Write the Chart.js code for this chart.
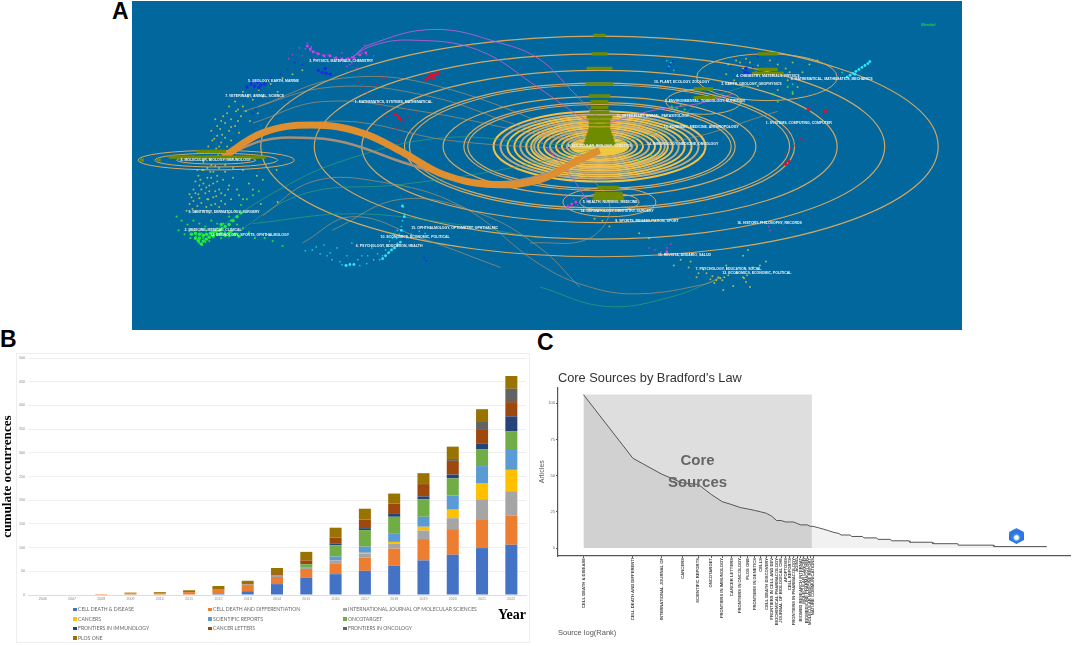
<!DOCTYPE html>
<html>
<head>
<meta charset="utf-8">
<script src="https://cdn.jsdelivr.net/npm/chart.js@4"></script>
<style>
  html, body { margin: 0; padding: 0; background: #fff; }
  body { position: relative; width: 1072px; height: 646px; overflow: hidden; font-family: "Liberation Sans", sans-serif; }
  canvas { position: absolute; }
  .letter { position: absolute; font-weight: bold; font-size: 23px; color: #000; line-height: 23px; }
  #panelA { position: absolute; left: 132px; top: 1px; width: 830px; height: 329px; background: #02679c; }
  #panelB { position: absolute; left: 16px; top: 353px; width: 514px; height: 290px; border: 1px solid #eeeeee; box-sizing: border-box; }
  #legendB { position: absolute; left: 73px; top: 605px; display: grid; grid-template-columns: 135px 135px 190px; grid-auto-rows: 9.5px; font-family: Lato, sans-serif; font-size: 5.1px; color: #666; line-height: 8px; }
  #legendB i { display: inline-block; width: 3.5px; height: 3.5px; margin-right: 1.5px; }
  #hex { position: absolute; left: 1009px; top: 528px; width: 15px; height: 16px; clip-path: polygon(50% 0, 100% 25%, 100% 75%, 50% 100%, 0 75%, 0 25%);
         background: radial-gradient(circle at 50% 60%, #fff 0 14%, #2f7fe8 30%, #2f6fe0 60%, #7fd0ff 100%); }
</style>
</head>
<body>
<div class="letter" style="left:112px;top:0px">A</div>
<div class="letter" style="left:0px;top:328px">B</div>
<div class="letter" style="left:537px;top:331px">C</div>

<div id="panelA"></div>
<canvas id="mapChart" width="830" height="329" style="left:132px;top:1px"></canvas>

<div id="panelB"></div>
<canvas id="stackChart" width="535" height="296" style="left:0;top:350px"></canvas>
<div id="legendB"></div>

<canvas id="bradfordChart" width="534" height="281" style="left:538px;top:365px"></canvas>
<div id="hex"></div>

<script>
// ---------- panel B data ----------
const years = ['2006','2007','2008','2009','2010','2011','2012','2013','2014','2015','2016','2017','2018','2019','2020','2021','2022'];
const journals = ['CELL DEATH & DISEASE','CELL DEATH AND DIFFERENTIATION','INTERNATIONAL JOURNAL OF MOLECULAR SCIENCES','CANCERS','SCIENTIFIC REPORTS','ONCOTARGET','FRONTIERS IN IMMUNOLOGY','CANCER LETTERS','FRONTIERS IN ONCOLOGY','PLOS ONE'];
const cellDeathDisease = [0,0,0,0,0,0,2,8,23,36,44,51,62,73,85,99,106];
const cellDeathDiff    = [0,0,2,3,3,6,9,13,15,19,23,28,36,45,54,61,62];
const ijms             = [0,0,0,0,0,0,0,1,3,4,6,8,10,18,23,42,51];
const cancers          = [0,0,0,0,0,0,0,0,0,0,0,2,4,8,18,33,45];
const sciReports       = [0,0,0,0,0,0,0,0,0,0,8,13,17,21,30,37,44];
const oncotarget       = [0,0,0,0,0,0,0,0,0,6,24,35,36,37,36,35,37];
const frontImmunology  = [0,0,0,0,0,0,0,0,0,0,3,4,6,6,8,13,32];
const cancerLetters    = [0,0,0,0,1,0,1,1,3,8,13,18,21,26,29,30,30];
const frontOncology    = [0,0,0,0,0,0,0,0,0,0,1,1,1,2,4,15,28];
const plosOne          = [0,0,0,2,2,4,7,7,13,18,20,22,21,21,26,27,27];
const stackTicks = [0,50,100,150,200,250,300,350,400,450,500];

// ---------- panel C data ----------
const sourceNames = ['CELL DEATH & DISEASE','CELL DEATH AND DIFFERENTI','INTERNATIONAL JOURNAL OF','CANCERS','SCIENTIFIC REPORTS','ONCOTARGET','FRONTIERS IN IMMUNOLOGY','CANCER LETTERS','FRONTIERS IN ONCOLOGY','PLOS ONE','FRONTIERS IN GENETICS','CELLS','CELL DEATH DISCOVERY','FRONTIERS IN CELL AND DEV','BIOCHEMICAL PHARMACOLOGY','JOURNAL OF BIOLOGICAL CHE','APOPTOSIS','CELL REPORTS','FRONTIERS IN PHARMACOLOGY','AGING','BIOMED RESEARCH INTERNAT','MOLECULAR CANCER','BIOMEDICINE PHARMACOTHER','MOLECULAR MEDICINE REPORT','NATURE COMMUNICATIONS'];
const sourceRanks = [1,2,3,4,5,6,7,8,9,10,11,12,13,14,15,16,17,18,19,20,21,22,23,24,25];
const lineRanks = [1,2,3,4,5,6,7,8,9,10,11,12,13,14,15,16,17,18,19,20,21,22,23,24,25,27,29,31,33,36,37,42,43,50,51,61,62,74,75,96,97,133,134,190,191,314,315,662];
const lineArticles = [106,62,51,45,44,37,32,30,28,27,26,25,24,22,19,19,18,18,18,17,16,16,16,15,15,14,13,12,11,10,9,9,8,8,7,7,6,6,5,5,4,4,3,3,2,2,1,1];
const coreEdge = [1, 24.6];
const coreTop = 106;
const articleTicks = [0,25,50,75,100];

// ---------- panel A data ----------
const ringRx = [342,288,240,197,192,158,137,133,107,100,93,86,80,74,69,66,62,56,50,44,38,33];
const ringRy = [113,95,78,65,63,51,45,43,36,33,31,29,27,25,23,22,21,19,17,15,13,11];
const sideRingX  = [213,213,213,769,705,610,610];
const sideRingY  = [160,160,160,75,100,203,203];
const sideRingRx = [79,62,40,71,38,47,30];
const sideRingRy = [10,7,4,24,13,15,9];

const oliveY    = [32,51,66,82,94,100,106,111,116,120,124,128,131,134,137,140,143, 157,151,160,160, 51,67,71,87,96, 188,194,197,200];
const oliveX    = [600,600,600,600,600,600,600,600,600,600,600,600,600,600,600,600,600, 214,208,138,155, 770,770,770,705,706, 609,609,609,609];
const oliveHalf = [6,8,13,14,11,9,9,10,13,11,11,11,12,13,14,15,16, 49,15,2,2, 10,10,16,10,11, 11,14,15,16];

const mainBand = [[220,157],[260,132],[310,124],[360,132],[403,153],[443,175],[493,185],[540,180],[573,163],[600,150]];
const grayBand = [[220,157],[260,140],[300,137],[343,142],[410,165],[477,182],[540,176],[600,150]];
const magentaCurves = [
  [[350,55],[367,42],[433,26],[500,40],[540,57],[573,90],[600,118]],
  [[345,58],[370,43],[410,37],[477,47],[540,87],[580,115],[600,125]],
  [[600,125],[650,110],[700,102],[735,92]],
  [[540,140],[570,175],[590,205]]
];
const greenCurves = [
  [[210,233],[277,190],[343,160],[443,137],[540,143],[600,146]],
  [[225,240],[300,195],[400,185],[500,170],[600,148]],
  [[540,290],[607,310],[673,300],[723,280]],
  [[600,146],[660,130],[705,100],[760,80]],
  [[250,225],[350,215],[450,225],[540,240]]
];
const brownCurves = [
  [[260,217],[310,182],[377,182],[460,207],[540,267],[590,290],[640,297],[707,287],[722,280]],
  [[250,122],[320,100],[420,110],[520,130],[600,146]],
  [[240,110],[330,85],[430,95],[520,125],[600,146]],
  [[255,105],[340,76],[440,85],[600,146]],
  [[250,135],[340,120],[450,140],[600,150]],
  [[600,146],[680,140],[780,110]],
  [[330,232],[400,200],[480,215],[540,250],[580,290]],
  [[300,245],[350,218],[420,240],[500,270]],
  [[570,160],[610,205],[590,240],[530,245]]
];

const yellowDots = [[250,98],[245,95],[240,105],[233,110],[228,118],[238,115],[222,122],[232,125],[217,128],[226,130],[214,135],[222,137],[209,140],[218,142],[205,146],[213,148],[228,140],[236,132],[247,120],[255,112],[203,152],[198,158],[208,165],[200,170],[210,172],[195,176],[204,178],[214,176],[192,182],[200,184],[210,184],[220,180],[190,190],[198,190],[206,192],[216,190],[226,186],[188,198],[196,199],[204,200],[213,197],[222,196],[234,190],[186,205],[194,207],[203,208],[212,205],[222,205],[240,200],[250,190],[260,180],[274,170],[258,205],[275,203],[183,212],[192,213],[206,214],[226,214],[199,170],[206,158],[216,168],[222,172],[195,195],[212,192],[208,178],[230,178],[240,170],[200,162],[214,125],[224,112],[232,100],[240,90],[256,88],[268,82],[280,76],[290,72],[300,68],[275,90],[260,95],[208,130],[212,118],[205,200],[218,202],[190,202],[228,200],
  [220,115],[226,105],[235,120],[243,110],[219,134],[211,138],[216,146],[224,146],[204,168],[212,166],[197,180],[206,186],[214,182],[192,194],[202,194],[210,198],[218,194],[225,190],[198,204],[208,206],[216,208],[189,210],[200,212],[236,196],[246,184],[254,176],[215,155],[205,158],[222,165],[230,168],[203,188],[196,186],[186,195],[207,172],[194,170],[235,108],[228,126],[218,120],
  [730,62],[738,58],[745,66],[752,60],[760,63],[772,58],[780,62],[788,66],[795,60],[728,72],[736,78],[790,78],[800,85],[805,70],[812,62],[795,92],[780,88],[760,84],[820,58],[742,60],[748,56],[785,72],[792,70],[758,70],
  [675,268],[682,262],[690,270],[698,280],[705,272],[712,282],[716,286],[720,280],[724,283],[730,278],[738,276],[745,280],[748,285],[755,270],[762,268],[768,264],[752,290],[725,293],[735,289],[700,276],[745,258],[750,252],[595,220],[603,222],[610,228],[640,235],[650,240],[718,283],[722,281],[714,279],[726,280],[746,281],[749,278],[708,276],[692,264],[728,268]];
const greenDots = [[173,218],[178,222],[184,226],[190,222],[196,225],[202,228],[208,222],[214,225],[222,228],[228,222],[234,226],[240,230],[246,234],[252,240],[175,232],[181,236],[187,240],[193,238],[198,235],[200,240],[204,236],[206,243],[210,238],[212,232],[216,236],[218,240],[222,234],[226,238],[230,236],[196,245],[199,247],[194,242],[202,244],[208,234],[214,230],[220,225],[226,218],[232,212],[238,206],[244,200],[250,196],[256,192],[262,240],[270,243],[280,248],[196,232],[203,232],[190,232],[186,233],[205,238],[199,238],[211,236],
  [673,105],[678,107],[682,104],[686,108],[640,160],[652,155],[790,85],[795,90],[780,100],[775,92]];
const greenCore = [[192,240],[195,243],[198,246],[196,240],[200,243],[203,241],[206,239],[200,237],[203,236],[207,235],[210,234],[213,233],[216,232],[219,230],[222,228],[226,226],[230,222],[234,218],[238,214],[210,238],[214,236],[218,235],[222,237],[226,235],[188,236],[192,235],[196,236],[228,233],[232,236],[236,238],[218,226]];
const cyanDots = [[303,253],[310,252],[318,256],[325,258],[330,262],[338,264],[345,268],[352,266],[358,268],[365,266],[372,262],[378,262],[384,258],[388,254],[392,250],[396,245],[384,252],[381,258],[386,248],[391,240],[396,232],[400,228],[401,222],[402,208],[403,215],[405,240],[410,236],[418,233],[424,235],[345,258],[360,258],[370,250],[335,250],[350,245],[322,247],[395,240],[388,243],
  [340,267],[348,266],[356,262],[366,258],[376,256],[392,236],[398,236],[328,255],[314,249],
  [845,70],[790,72],[795,82],[672,60],[670,64],[668,58],[675,68]];
const cyanCore = [[381,261],[384,258],[387,255],[390,252],[393,250],[396,247],[399,244],[344,268],[348,267],[352,267],[853,73],[856,71],[859,69],[862,67],[865,65],[868,63],[871,61],[873,59],[858,72],[850,75],[401,207],[403,218],[400,232]];
const redDots = [[357,80],[362,85],[358,88],[365,90],[370,85],[375,82],[380,76],[378,72],[385,76],[380,105],[385,108],[392,113],[397,118],[398,125],[403,120],[408,115],[395,128],[390,122],[385,115],[410,130],[400,135],[397,140],[415,112],[405,108],[375,100],[370,95],[388,130],[402,128],
  [797,145],[803,138],[790,130],[795,122],[800,128],[806,118],[812,110],[820,112],[828,110],[818,103],[790,165],[787,155],[800,155],[793,148],[806,140]];
const redCore = [[425,77],[428,75],[431,74],[434,72],[437,71],[430,72],[433,76],[394,113],[397,116],[399,118],[788,164],[791,161],[811,108],[828,110]];
const purpleDots = [[297,45],[303,46],[308,48],[305,40],[309,44],[314,50],[320,52],[326,52],[332,55],[338,58],[344,56],[350,54],[356,52],[360,50],[365,52],[372,53],[350,60],[345,64],[355,66],[290,52],[286,56],[300,53],[312,56],[363,42],[358,48],[340,50],[348,62],
  [560,190],[566,195],[574,200],[578,206],[582,198],[568,206],[576,208],[650,250],[656,252],[662,254],[668,250],[672,246],[678,256],[771,228],[772,232]];
const purpleCore = [[305,43],[308,46],[311,49],[316,51],[322,53],[328,53],[334,55],[340,56],[346,56],[352,55],[358,52],[364,50],[568,208],[572,205],[576,203],[668,254]];
const blueDots = [[300,62],[292,60],[285,67],[278,72],[268,76],[253,108],[250,112],[745,68],[750,70],[742,72],[755,65],[760,54],[671,62],[669,66],[674,59],[423,260],[425,263],[404,240]];
const blueCore = [[248,82],[252,84],[255,80],[258,83],[262,82],[250,78],[256,86],[244,85],[320,70],[324,71],[328,72],[316,68],[323,66],[747,70],[751,72],[748,66]];

const labelNames = ['3. PHYSICS, MATERIALS, CHEMISTRY','5. GEOLOGY, EARTH, MARINE','7. VETERINARY, ANIMAL, SCIENCE','1. MATHEMATICS, SYSTEMS, MATHEMATICAL','4. MOLECULAR, BIOLOGY, IMMUNOLOGY','9. DENTISTRY, DERMATOLOGY, SURGERY','2. MEDICINE, MEDICAL, CLINICAL','12. NEUROLOGY, SPORTS, OPHTHALMOLOGY','6. PSYCHOLOGY, EDUCATION, HEALTH','10. ECONOMICS, ECONOMIC, POLITICAL','15. OPHTHALMOLOGY, OPTOMETRY, OPHTHALMIC','4. CHEMISTRY, MATERIALS, PHYSICS','8. MATHEMATICAL, MATHEMATICS, MECHANICS','3. EARTH, GEOLOGY, GEOPHYSICS','10. PLANT, ECOLOGY, ZOOLOGY','2. ENVIRONMENTAL, TOXICOLOGY, NUTRITION','1. SYSTEMS, COMPUTING, COMPUTER','11. VETERINARY, ANIMAL, PARASITOLOGY','13. FORENSIC, MEDICINE, ANTHROPOLOGY','8. MOLECULAR, BIOLOGY, GENETICS','14. IMMUNOLOGY, MEDICINE, ONCOLOGY','5. HEALTH, NURSING, MEDICINE','14. DERMATOLOGY, DENTISTRY, SURGERY','9. SPORTS, REHABILITATION, SPORT','16. HISTORY, PHILOSOPHY, RECORDS','15. REVISTA, ANUARIO, SALUD','7. PSYCHOLOGY, EDUCATION, SOCIAL','12. ECONOMICS, ECONOMIC, POLITICAL'];
const labelX = [307,245,222,353,177,185,181,207,354,379,410,738,793,723,655,666,768,617,665,568,648,583,581,616,739,659,697,724];
const labelY = [58,79,94,100,160,213,232,237,248,239,230,74,77,82,80,99,122,115,126,146,143,203,212,222,224,257,272,276];

const toXY = pts => pts.map(p => ({x: p[0], y: p[1]}));

function dotSet(pts, color, r) {
    return {data: toXY(pts), backgroundColor: color, borderWidth: 0, pointRadius: r || 0.85, showLine: false};
}
function curve(pts, color, w) {
    return {data: toXY(pts), borderColor: color, borderWidth: w, pointRadius: 0, showLine: true, tension: 0.4, fill: false};
}

// rings are drawn under the datasets, through the chart's own scales
const ringPlugin = {
    id: 'rings',
    beforeDatasetsDraw(chart) {
        const {ctx, scales: {x, y}} = chart;
        const sx = x.getPixelForValue(1) - x.getPixelForValue(0);
        const sy = y.getPixelForValue(1) - y.getPixelForValue(0);
        const cx = x.getPixelForValue(600), cy = y.getPixelForValue(146);
        ctx.save();
        ctx.beginPath();
        ctx.ellipse(cx, cy, 30 * sx, 10 * sy, 0, 0, Math.PI * 2);
        ctx.fillStyle = '#f0c840';
        ctx.fill();
        ringRx.forEach((rx, i) => {
            ctx.beginPath();
            ctx.ellipse(cx, cy, rx * sx, ringRy[i] * sy, 0, 0, Math.PI * 2);
            ctx.strokeStyle = rx > 110 ? '#d5a862' : (i % 3 === 0 ? '#bcaa80' : '#f0c04a');
            ctx.lineWidth = rx > 110 ? 1.2 : 2;
            ctx.stroke();
        });
        sideRingX.forEach((sxv, i) => {
            ctx.beginPath();
            ctx.ellipse(x.getPixelForValue(sxv), y.getPixelForValue(sideRingY[i]), sideRingRx[i] * sx, sideRingRy[i] * sy, 0, 0, Math.PI * 2);
            ctx.strokeStyle = '#d5a862';
            ctx.lineWidth = 1;
            ctx.stroke();
        });
        ctx.restore();
    },
    afterDatasetsDraw(chart) {
        const {ctx, scales: {x, y}} = chart;
        ctx.save();
        ctx.font = 'bold 3.5px "Liberation Sans"';
        ctx.fillStyle = '#e9f6fb';
        ctx.textBaseline = 'middle';
        labelNames.forEach((t, i) => ctx.fillText(t, x.getPixelForValue(labelX[i]), y.getPixelForValue(labelY[i])));
        ctx.font = 'bold 3.6px "Liberation Sans"';
        ctx.fillStyle = '#22d050';
        ctx.fillText('Blended', x.getPixelForValue(925), y.getPixelForValue(22));
        ctx.restore();
    }
};

const oliveData = [];
oliveY.forEach((yy, i) => {
    oliveData.push({x: oliveX[i] - oliveHalf[i], y: yy}, {x: oliveX[i] + oliveHalf[i], y: yy}, {x: NaN, y: NaN});
});

new Chart(document.getElementById('mapChart'), {
    type: 'scatter',
    plugins: [ringPlugin],
    data: {
        datasets: [
            {data: oliveData, borderColor: '#6f8c00', borderWidth: 3.2, pointRadius: 0, showLine: true, spanGaps: false},
            curve(mainBand, '#e08f30', 7),
            curve(grayBand, '#a58f78', 2.5),
            dotSet(redCore, '#e0102c', 1.8),
            dotSet(redDots, 'rgba(214,30,60,0.8)'),
            dotSet(purpleCore, '#d040e8', 1.5),
            dotSet(purpleDots, 'rgba(205,60,225,0.85)'),
            dotSet(blueCore, '#1a28f0', 1.7),
            dotSet(blueDots, 'rgba(25,45,235,0.85)', 1),
            dotSet(cyanCore, '#30e8f5', 1.4),
            dotSet(cyanDots, 'rgba(40,225,240,0.8)'),
            dotSet(greenCore, '#20f030', 1.7),
            dotSet(greenDots, 'rgba(40,235,50,0.85)', 1.1),
            dotSet(yellowDots, 'rgba(205,205,70,0.8)', 1),
        ]
        .concat(magentaCurves.map(c => curve(c, 'rgba(200,90,215,0.85)', 1)))
        .concat(brownCurves.map(c => curve(c, 'rgba(190,150,105,0.7)', 0.9)))
        .concat(greenCurves.map(c => curve(c, 'rgba(60,170,110,0.75)', 0.8)))
    },
    options: {
        responsive: false,
        animation: false,
        layout: {padding: 0},
        plugins: {legend: {display: false}, tooltip: {enabled: false}},
        scales: {
            x: {type: 'linear', min: 132, max: 962, display: false},
            y: {type: 'linear', min: 1, max: 330, reverse: true, display: false}
        }
    }
});

// stacked bars
const stackColors = ['#4472c4','#ed7d31','#a5a5a5','#ffc000','#5b9bd5','#70ad47','#264478','#9e480e','#636363','#997300'];
const stackValues = [cellDeathDisease, cellDeathDiff, ijms, cancers, sciReports, oncotarget, frontImmunology, cancerLetters, frontOncology, plosOne];

new Chart(document.getElementById('stackChart'), {
    type: 'bar',
    data: {
        labels: years,
        datasets: journals.map((name, i) => ({
            label: name,
            data: stackValues[i],
            backgroundColor: stackColors[i],
            categoryPercentage: 1,
            barPercentage: 0.41
        }))
    },
    options: {
        responsive: false,
        animation: false,
        layout: {padding: {top: 8, right: 9}},
        plugins: {legend: {display: false}, tooltip: {enabled: false}},
        scales: {
            x: {
                stacked: true,
                afterFit: s => { s.height = 51; },
                grid: {display: false, drawTicks: false},
                border: {color: '#dddddd'},
                ticks: {font: {size: 3.6}, color: '#888', padding: 2, maxRotation: 0, autoSkip: false},
                title: {display: true, text: 'Year', align: 'end', color: '#000', font: {family: '"Liberation Serif"', size: 14, weight: 'bold'}, padding: {top: 0, bottom: 22}}
            },
            y: {
                stacked: true,
                min: 0,
                max: 500,
                afterFit: s => { s.width = 28; },
                afterBuildTicks: s => { s.ticks = stackTicks.map(v => ({value: v})); },
                grid: {color: '#efefef', drawTicks: false},
                border: {display: false},
                ticks: {font: {size: 3.6}, color: '#888', padding: 3},
                title: {display: true, text: 'cumulate occurrences', color: '#000', font: {family: '"Liberation Serif"', size: 13.2, weight: 'bold'}, padding: {top: 0, bottom: 0}}
            }
        }
    }
});

// legend has fixed columns so it is plain html
const legendB = document.getElementById('legendB');
journals.forEach((name, i) => {
    const row = document.createElement('div');
    row.innerHTML = '<i style="background:' + stackColors[i] + '"></i>';
    row.appendChild(document.createTextNode(name));
    legendB.appendChild(row);
});

// bradford curve
const bradfordText = {
    id: 'bradfordText',
    afterDatasetsDraw(chart) {
        const {ctx, scales: {x, y}} = chart;
        ctx.save();
        ctx.font = 'bold 15px "Liberation Sans"';
        ctx.fillStyle = '#666666';
        ctx.textAlign = 'center';
        ctx.textBaseline = 'middle';
        ctx.fillText('Core', x.getPixelForValue(4.95), y.getPixelForValue(60));
        ctx.fillText('Sources', x.getPixelForValue(4.95), y.getPixelForValue(45));
        ctx.restore();
    }
};

new Chart(document.getElementById('bradfordChart'), {
    type: 'line',
    plugins: [bradfordText],
    data: {
        datasets: [
            {
                data: lineRanks.map((r, i) => ({x: r, y: lineArticles[i]})),
                borderColor: '#555555',
                borderWidth: 1,
                pointRadius: 0,
                tension: 0,
                backgroundColor: 'rgba(0,0,0,0.055)',
                fill: {value: 0}
            },
            {
                data: coreEdge.map(r => ({x: r, y: coreTop})),
                borderWidth: 0,
                pointRadius: 0,
                backgroundColor: 'rgba(190,190,190,0.5)',
                fill: {value: 0}
            }
        ]
    },
    options: {
        responsive: false,
        animation: false,
        layout: {padding: {right: 2, top: 0}},
        plugins: {
            legend: {display: false},
            tooltip: {enabled: false},
            title: {display: true, fullSize: false, align: 'start', text: "Core Sources by Bradford's Law", color: '#333333', font: {family: '"Liberation Sans"', size: 12.8, weight: 'normal'}, padding: {top: 6, bottom: 1}}
        },
        scales: {
            x: {
                type: 'logarithmic',
                min: 0.74,
                max: 916,
                afterFit: s => { s.height = 90; },
                afterBuildTicks: s => { s.ticks = sourceRanks.map(v => ({value: v})); },
                grid: {drawOnChartArea: false, drawTicks: true, tickLength: 2, color: '#555555'},
                border: {color: '#555555', width: 1.2},
                ticks: {
                    autoSkip: false,
                    minRotation: 90,
                    maxRotation: 90,
                    padding: 0,
                    font: {family: '"Liberation Sans"', size: 4.2, weight: 'bold'},
                    color: '#444',
                    callback: (v, i) => sourceNames[i]
                },
                title: {display: true, text: 'Source log(Rank)', align: 'start', color: '#555', font: {family: '"Liberation Sans"', size: 7.5}, padding: {top: 0, bottom: 9}}
            },
            y: {
                min: -5.5,
                max: 111,
                afterFit: s => { s.width = 20; },
                afterBuildTicks: s => { s.ticks = articleTicks.map(v => ({value: v})); },
                grid: {drawOnChartArea: false, tickLength: 2, color: '#555555'},
                border: {color: '#555555', width: 1.2},
                ticks: {font: {family: '"Liberation Sans"', size: 4}, color: '#666', padding: 1},
                title: {display: true, text: 'Articles', color: '#555', font: {family: '"Liberation Sans"', size: 7}, padding: {top: 0, bottom: 0}}
            }
        }
    }
});
</script>
</body>
</html>
